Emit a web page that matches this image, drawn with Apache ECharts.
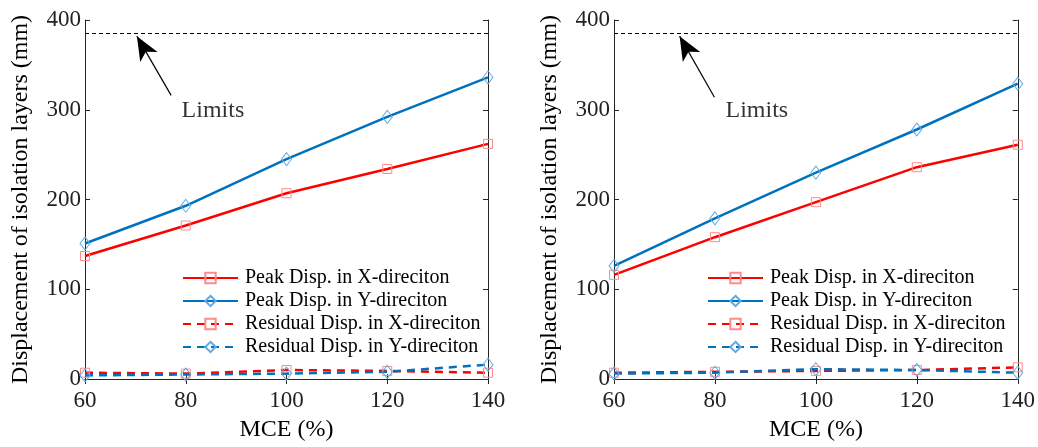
<!DOCTYPE html>
<html>
<head>
<meta charset="utf-8">
<script src="https://cdn.jsdelivr.net/npm/echarts@6/dist/echarts.min.js"></script>
<style>
  html, body { margin: 0; padding: 0; background: #fff; }
  #chart { width: 1038px; height: 447px; }
</style>
</head>
<body>
<div id="chart"></div>
<script>
  // x categories (MCE %)
  var mce = [60, 80, 100, 120, 140];
  var yTicks = [0, 100, 200, 300, 400];

  // left panel
  var peakXLeft = [137, 171, 207, 234, 262];
  var peakYLeft = [151, 193, 245, 292, 336];
  var resXLeft = [7, 6, 10, 9, 7];
  var resYLeft = [4, 5, 6, 8, 16];

  // right panel
  var peakXRight = [116, 158, 197, 236, 261];
  var peakYRight = [126, 179, 230, 278, 329];
  var resXRight = [7, 8, 9, 10, 13];
  var resYRight = [6, 7, 11, 10, 7];

  var limitValue = 385;
  var names = ['Peak Disp. in X-direciton', 'Peak Disp. in Y-direciton',
    'Residual Disp. in X-direciton', 'Residual Disp. in Y-direciton'];

  var font = "'Liberation Serif', 'Times New Roman', serif";
  var axisColor = '#262626';
  var red = '#ff0000', redMark = '#ff8a8a';
  var blue = '#0072bd', blueMark = '#62aae4';

  function pairs(vals) {
    return mce.map(function (x, i) { return [x, vals[i]]; });
  }

  function lineSeries(name, idx, vals, isPeak, isX) {
    return {
      name: name,
      type: 'line',
      xAxisIndex: idx * 2,
      yAxisIndex: idx * 2,
      data: pairs(vals),
      symbol: isX ? 'rect' : 'diamond',
      symbolSize: isX ? 9 : [10, 13],
      itemStyle: {
        color: 'rgba(255,255,255,0)',
        borderColor: isX ? redMark : blueMark,
        borderWidth: 1
      },
      lineStyle: {
        color: isX ? red : blue,
        width: 2.5,
        type: isPeak ? 'solid' : [8, 6]
      },
      z: isX ? 3 : 4,
      animation: false
    };
  }

  // dashed limit line + arrow, in data coordinates
  function limitSeries(idx, arrowFrom, arrowTo) {
    return {
      name: 'Limits',
      type: 'line',
      xAxisIndex: idx * 2,
      yAxisIndex: idx * 2,
      data: [],
      markLine: {
        silent: true,
        animation: false,
        label: { show: false },
        data: [
          [
            { coord: [60, limitValue], symbol: 'none', lineStyle: { color: '#000', width: 1, type: [4, 3] } },
            { coord: [140, limitValue], symbol: 'none' }
          ],
          [
            { coord: arrowFrom, symbol: 'none', lineStyle: { color: '#000', width: 1.2, type: 'solid' } },
            { coord: arrowTo, symbol: 'arrow', symbolSize: [15, 24] }
          ]
        ]
      }
    };
  }

  // "Limits" label
  function limitText(idx, at) {
    return {
      name: 'LimitsText',
      type: 'scatter',
      xAxisIndex: idx * 2,
      yAxisIndex: idx * 2,
      data: [at],
      symbolSize: 1,
      itemStyle: { color: 'rgba(0,0,0,0)' },
      silent: true,
      label: {
        show: true,
        position: 'inside',
        formatter: 'Limits',
        color: '#000',
        fontFamily: font,
        fontSize: 24
      }
    };
  }

  function mainX(gi) {
    return {
      type: 'value', gridIndex: gi, min: 60, max: 140, interval: 20,
      name: 'MCE (%)', nameLocation: 'middle', nameGap: 39,
      nameTextStyle: { fontFamily: font, fontSize: 24, color: '#000' },
      axisLine: { show: true, lineStyle: { color: axisColor, width: 1 } },
      axisTick: { show: true, inside: true, length: 5, lineStyle: { color: axisColor } },
      axisLabel: { fontFamily: font, fontSize: 23, color: '#222', margin: 10 },
      splitLine: { show: false }
    };
  }
  function topX(gi) {
    return {
      type: 'value', gridIndex: gi, min: 60, max: 140, interval: 20, position: 'top',
      axisLine: { show: true, lineStyle: { color: axisColor, width: 1 } },
      axisTick: { show: true, inside: true, length: 5, lineStyle: { color: axisColor } },
      axisLabel: { show: false },
      splitLine: { show: false }
    };
  }
  function mainY(gi) {
    return {
      type: 'value', gridIndex: gi, min: 0, max: 400, interval: 100,
      name: 'Displacement of isolation layers (mm)', nameLocation: 'middle', nameGap: 52,
      nameTextStyle: { fontFamily: font, fontSize: 24, color: '#000' },
      axisLine: { show: true, lineStyle: { color: axisColor, width: 1 } },
      axisTick: { show: true, inside: true, length: 5, lineStyle: { color: axisColor } },
      axisLabel: { fontFamily: font, fontSize: 23, color: '#222', margin: 4,
        formatter: function (v) { return yTicks.indexOf(v) >= 0 ? v : ''; } },
      splitLine: { show: false }
    };
  }
  function rightY(gi) {
    return {
      type: 'value', gridIndex: gi, min: 0, max: 400, interval: 100, position: 'right',
      axisLine: { show: true, lineStyle: { color: axisColor, width: 1 } },
      axisTick: { show: true, inside: true, length: 5, lineStyle: { color: axisColor } },
      axisLabel: { show: false },
      splitLine: { show: false }
    };
  }
  function legendAt(left) {
    return {
      data: names,
      orient: 'vertical',
      left: left,
      top: 263,
      itemWidth: 55,
      itemHeight: 13,
      itemGap: 3,
      selectedMode: false,
      textStyle: { fontFamily: font, fontSize: 20, color: '#000', padding: [0, 0, 0, 2] }
    };
  }

  var chart = echarts.init(document.getElementById('chart'), null, { renderer: 'canvas' });

  var series = [];
  [[peakXLeft, peakYLeft, resXLeft, resYLeft], [peakXRight, peakYRight, resXRight, resYRight]]
    .forEach(function (set, idx) {
      series.push(lineSeries(names[0], idx, set[0], true, true));
      series.push(lineSeries(names[1], idx, set[1], true, false));
      series.push(lineSeries(names[2], idx, set[2], false, true));
      series.push(lineSeries(names[3], idx, set[3], false, false));
    });
  series.push(limitSeries(0, [77.1, 316], [70.3, 382]));
  series.push(limitSeries(1, [79.9, 314], [73, 382]));
  series.push(limitText(0, [85.4, 299]));
  series.push(limitText(1, [88.3, 299]));

  var option = {
    backgroundColor: '#fff',
    animation: false,
    grid: [
      { left: 85, top: 20, width: 403, height: 359 },
      { left: 614, top: 20, width: 404, height: 359 }
    ],
    legend: [legendAt(177), legendAt(702)],
    xAxis: [mainX(0), topX(0), mainX(1), topX(1)],
    yAxis: [mainY(0), rightY(0), mainY(1), rightY(1)],
    series: series
  };
  chart.setOption(option);
</script>
</body>
</html>
